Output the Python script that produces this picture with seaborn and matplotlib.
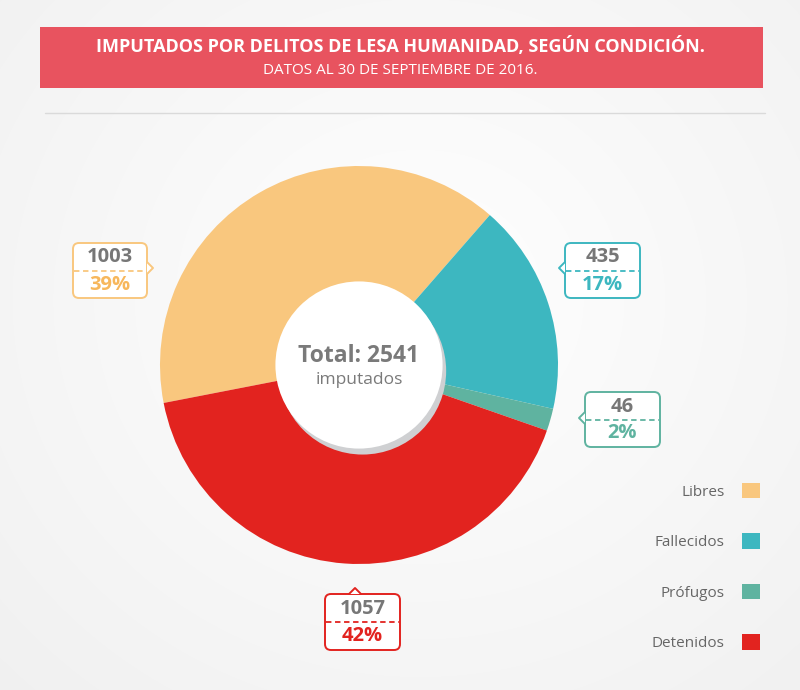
import numpy as np
import matplotlib
matplotlib.use("Agg")
import matplotlib.pyplot as plt
import seaborn as sns
from matplotlib.patches import FancyBboxPatch, Circle, Polygon, Rectangle
from matplotlib.lines import Line2D

# data
categorias = ["Libres", "Fallecidos", "Prófugos", "Detenidos"]
imputados = [1003, 435, 46, 1057]
porcentajes = ["39%", "17%", "2%", "42%"]
colores = ["#F9C77E", "#3DB7C0", "#5FB3A0", "#E2231F"]
colores_pct = ["#F7B75C", "#3DB7C0", "#5FB3A0", "#E2231F"]
total = sum(imputados)

titulo = "IMPUTADOS POR DELITOS DE LESA HUMANIDAD, SEGÚN CONDICIÓN."
subtitulo = "DATOS AL 30 DE SEPTIEMBRE DE 2016."

sns.set_theme(style="white")
plt.rcParams['font.family'] = ['Open Sans', 'DejaVu Sans']

W, H = 800, 690
fig = plt.figure(figsize=(8, 6.9), dpi=100)
fig.patch.set_facecolor("#F7F7F7")

# soft background gradient
bg = fig.add_axes([0, 0, 1, 1], zorder=0)
yy, xx = np.mgrid[0:H, 0:W]
d = np.sqrt(((xx - 420) / 520.0) ** 2 + ((yy - 300) / 480.0) ** 2)
g = np.clip(1.0 - 0.05 * d, 0.93, 1.0)
bg.imshow(np.dstack([g, g, g]), extent=[0, W, H, 0], aspect="auto")
bg.set_xlim(0, W)
bg.set_ylim(H, 0)
bg.axis("off")

# donut
cx, cy, R = 359, 365, 199
ax = fig.add_axes([(cx - R) / W, (H - cy - R) / H, 2 * R / W, 2 * R / H], zorder=1)
wedges, _ = ax.pie(imputados, colors=colores, startangle=191, counterclock=False,
                   wedgeprops=dict(linewidth=0))
ax.set_xlim(-1, 1)
ax.set_ylim(-1, 1)
ax.add_patch(Circle((0.018, -0.03), 0.42, color="#CFD0D2", lw=0))
ax.add_patch(Circle((0, 0), 0.42, color="white", lw=0))
ax.text(0, 0.045, f"Total: {total}", ha="center", va="center", fontsize=16.5,
        fontweight="bold", color="#7A7A7A")
ax.text(0, -0.075, "imputados", ha="center", va="center", fontsize=12.5, color="#7A7A7A")

# overlay in pixel coordinates
ov = fig.add_axes([0, 0, 1, 1], zorder=2)
ov.set_xlim(0, W)
ov.set_ylim(H, 0)
ov.axis("off")

ov.add_patch(Rectangle((40, 27), 723, 61, color="#E8535F", lw=0))
ov.text(400.5, 46, titulo, ha="center", va="center", color="white",
        fontsize=13, fontweight="bold")
ov.text(400.5, 71, subtitulo, ha="center", va="center", color="white", fontsize=11)
ov.add_line(Line2D([45, 765], [113, 113], color="#DADADA", lw=1))


def callout(x0, y0, w, h, color, num, pct, pct_color, side, pos):
    ov.add_patch(FancyBboxPatch((x0, y0), w, h, boxstyle="round,pad=0,rounding_size=6",
                                fc="white", ec=color, lw=1.4))
    p = 6
    if side == "right":
        xb = x0 + w
        tri = [(xb, pos - p), (xb + p, pos), (xb, pos + p)]
    elif side == "left":
        xb = x0
        tri = [(xb, pos - p), (xb - p, pos), (xb, pos + p)]
    else:
        yb = y0
        tri = [(pos - p, yb), (pos, yb - p), (pos + p, yb)]
    ov.add_patch(Polygon(tri, closed=True, fc="white", ec="none", lw=0, zorder=3))
    ov.add_line(Line2D([t[0] for t in tri], [t[1] for t in tri], color=color, lw=1.4, zorder=4))
    ym = y0 + h / 2
    ov.add_line(Line2D([x0 + 1, x0 + w - 1], [ym, ym], color=color, lw=1.3,
                       ls=(0, (3, 2)), zorder=4))
    ov.text(x0 + w / 2, ym - 13, num, ha="center", va="center", fontsize=14.5,
            fontweight="bold", color="#777777", zorder=5)
    ov.text(x0 + w / 2, ym + 14, pct, ha="center", va="center", fontsize=14.5,
            fontweight="bold", color=pct_color, zorder=5)


callout(73, 243, 74, 55, colores[0], str(imputados[0]), porcentajes[0], colores_pct[0], "right", 268)
callout(565, 243, 75, 55, colores[1], str(imputados[1]), porcentajes[1], colores_pct[1], "left", 268)
callout(585, 392, 75, 55, colores[2], str(imputados[2]), porcentajes[2], colores_pct[2], "left", 418)
callout(325, 594, 75, 56, colores[3], str(imputados[3]), porcentajes[3], colores_pct[3], "top", 355)

# legend
leg = fig.legend(wedges, categorias, loc="center right", bbox_to_anchor=(760 / W, 1 - 567 / H),
                 frameon=False, markerfirst=False, fontsize=11, labelcolor="#666666",
                 handlelength=1.2, handleheight=1.2, handletextpad=1.1, labelspacing=2.2,
                 borderpad=0, borderaxespad=0)

fig.savefig("out.png", dpi=100, facecolor=fig.get_facecolor())
